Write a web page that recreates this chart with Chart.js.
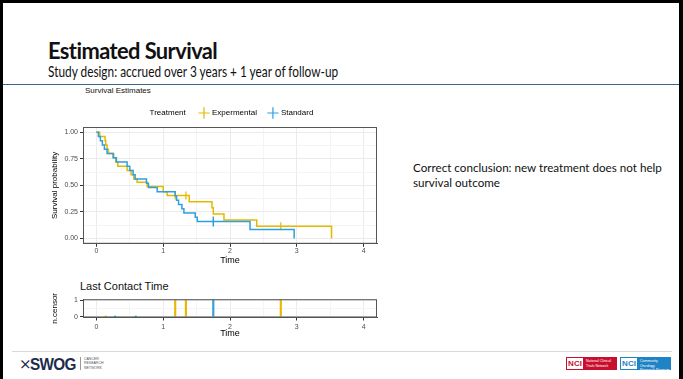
<!DOCTYPE html>
<html>
<head>
<meta charset="utf-8">
<script src="https://cdn.jsdelivr.net/npm/chart.js@4.4.1/dist/chart.umd.min.js"></script>
<style>
html, body { margin:0; padding:0; background:#fff; }
#slide { position:relative; width:683px; height:379px; overflow:hidden; background:#fff; font-family:Lato, "Open Sans", sans-serif; }
#frame { position:absolute; left:0; top:0; width:676px; height:379px; border-top:3px solid #000; border-left:3px solid #000; border-right:4px solid #000; }
.txt { position:absolute; white-space:nowrap; transform-origin:0 0; color:#111; }
#title { left:48px; top:36px; font-size:23px; font-weight:bold; letter-spacing:-0.6px; transform:scaleX(0.95); }
#subtitle { left:48px; top:62px; font-size:15px; transform:scaleX(0.79); }
#rule { position:absolute; left:3px; top:84px; width:676px; height:1px; background:#3d6490; }
#rtext { left:413px; top:160px; font-size:12px; line-height:15px; transform:scaleX(0.97); }
.gtitle { font-family:"Liberation Sans", Arial, sans-serif; }
#t1 { left:85px; top:86px; font-size:8px; }
#t2 { left:80px; top:280px; font-size:11px; }
#foot { position:absolute; left:12px; top:351px; width:660px; height:1px; background:#d9d9d9; }
#swog { left:30px; top:355px; font-family:"Liberation Sans", Arial, sans-serif; font-weight:bold; font-size:17px; color:#1d2b4c; letter-spacing:-0.8px; transform:scaleX(0.9); }
#swogx { left:19px; top:355px; font-size:15px; color:#1d2b4c; font-family:"DejaVu Sans", sans-serif; }
#swogsub { left:80px; top:357px; font-size:3.5px; line-height:4.3px; color:#555; border-left:1px solid #999; padding-left:3px; font-family:"Liberation Sans", Arial, sans-serif; }
.nci { position:absolute; top:357px; height:13px; font-family:"Liberation Sans", Arial, sans-serif; }
.nci b { position:absolute; left:1px; top:1px; height:11px; width:16px; background:#fff; font-size:8px; line-height:11px; text-align:center; }
.nci span { position:absolute; left:20px; top:2px; font-size:3.5px; line-height:4.5px; color:#fff; }
#top, #bot { position:absolute; }
#top { left:50px; top:97px; }
#bot { left:50px; top:293px; }
</style>
</head>
<body>
<div id="slide">
  <div id="frame"></div>
  <div class="txt" id="title">Estimated Survival</div>
  <div class="txt" id="subtitle">Study design: accrued over 3 years + 1 year of follow-up</div>
  <div id="rule"></div>
  <div class="txt gtitle" id="t1">Survival Estimates</div>
  <div class="txt gtitle" id="t2">Last Contact Time</div>
  <div class="txt" id="rtext">Correct conclusion: new treatment does not help<br>survival outcome</div>
  <canvas id="top" width="335" height="169"></canvas>
  <canvas id="bot" width="335" height="46"></canvas>
  <div id="foot"></div>
  <div class="txt" id="swogx">&#x2A2F;</div>
  <div class="txt" id="swog">SWOG</div>
  <div class="txt" id="swogsub">CANCER<br>RESEARCH<br>NETWORK</div>
  <div class="nci" style="left:566px;width:51px;background:#c8102e;"><b style="color:#c8102e">NCI</b><span>National Clinical<br>Trials Network</span></div>
  <div class="nci" style="left:620px;width:51px;background:#1f83c6;"><b style="color:#1f83c6">NCI</b><span>Community Oncology<br>Research Program</span></div>
</div>
<script>
// valeurs (temps en annees, survie estimee)
const expTime = [0, 0.05, 0.13, 0.14, 0.16, 0.18, 0.26, 0.29, 0.32, 0.46, 0.52, 0.56, 0.61, 0.76, 1.00, 1.06, 1.39, 1.73, 1.75, 1.91, 2.40, 3.52];
const expSurv = [1.00, 0.96, 0.92, 0.88, 0.84, 0.80, 0.76, 0.72, 0.68, 0.64, 0.60, 0.56, 0.53, 0.49, 0.44, 0.405, 0.347, 0.289, 0.231, 0.174, 0.116, 0];
const stdTime = [0, 0.03, 0.06, 0.09, 0.12, 0.16, 0.25, 0.30, 0.46, 0.50, 0.55, 0.58, 0.75, 0.78, 0.91, 1.18, 1.20, 1.23, 1.28, 1.31, 1.48, 1.51, 2.30, 2.96];
const stdSurv = [1.00, 0.96, 0.92, 0.88, 0.84, 0.80, 0.76, 0.72, 0.68, 0.64, 0.60, 0.56, 0.52, 0.48, 0.44, 0.40, 0.36, 0.32, 0.28, 0.24, 0.20, 0.16, 0.085, 0];

// patients censures
const expCensTime = [1.18, 1.34, 2.76];
const expCensSurv = [0.405, 0.405, 0.116];
const stdCensTime = [1.75];
const stdCensSurv = [0.16];

// graphe du bas : n.censor
const expNcTime = [0.14, 1.18, 1.34, 2.76];
const expNcCount = [0, 1, 1, 1];
const stdNcTime = [0.28, 0.59, 1.75];
const stdNcCount = [0, 0, 1];

const xTicks = [0, 1, 2, 3, 4];
const yTicks = [0, 0.25, 0.5, 0.75, 1];

const YEL = '#E7B800';
const BLU = '#2E9FDF';
const GRID = '#ebebeb';
const GRID_MINOR = '#f4f4f4';
const NONE = 'rgba(0,0,0,0)';

function pts(xs, ys) { return xs.map((x, i) => ({x: x, y: ys[i]})); }
function isMajor(c, list) { return c.tick ? list.some(t => Math.abs(t - c.tick.value) < 1e-6) : false; }
function isMajorV(v, list) { return list.some(t => Math.abs(t - v) < 1e-6); }

function xScale(tickPad, titlePad) {
	return {
		type: 'linear', min: -0.2, max: 4.2, offset: false,
		afterBuildTicks: s => {
			const t = [];
			for (let v = 0; v <= 4.0001; v += 0.5) t.push({value: v});
			s.ticks = t;
		},
		ticks: {
			autoSkip: false, maxRotation: 0, padding: tickPad, color: '#4d4d4d',
			font: {family: 'Liberation Sans', size: 7},
			callback: v => isMajorV(v, xTicks) ? String(v) : ''
		},
		grid: {
			offset: false,
			color: c => isMajor(c, xTicks) ? GRID : GRID_MINOR,
			tickColor: c => isMajor(c, xTicks) ? '#333' : NONE,
			tickLength: 3, lineWidth: 1
		},
		border: {display: true, color: '#555', width: 1},
		title: {display: true, text: 'Time', color: '#000', padding: {top: titlePad, bottom: 0},
			font: {family: 'Liberation Sans', size: 9}}
	};
}

// cadre complet autour du panneau (style ggplot theme_bw)
const panelBorder = {
	id: 'panelBorder',
	afterDatasetsDraw(chart) {
		const a = chart.chartArea, ctx = chart.ctx;
		ctx.save();
		ctx.strokeStyle = '#555';
		ctx.lineWidth = 1;
		ctx.strokeRect(a.left + 0.5, a.top + 0.5, a.right - a.left - 1, a.bottom - a.top - 1);
		ctx.restore();
	}
};

new Chart(document.getElementById('top'), {
	type: 'line',
	data: {
		datasets: [
			{label: 'Expermental', data: pts(expTime, expSurv), borderColor: YEL, borderWidth: 1.5, stepped: true, pointRadius: 0, fill: false, order: 2},
			{label: 'Standard', data: pts(stdTime, stdSurv), borderColor: BLU, borderWidth: 1.5, stepped: true, pointRadius: 0, fill: false, order: 1},
			{label: 'cens exp', type: 'scatter', data: pts(expCensTime, expCensSurv), pointStyle: 'line', rotation: 90, pointRadius: 4, borderColor: YEL, pointBorderWidth: 1.2, order: 2},
			{label: 'cens std', type: 'scatter', data: pts(stdCensTime, stdCensSurv), pointStyle: 'line', rotation: 90, pointRadius: 5, borderColor: BLU, pointBorderWidth: 1.5, order: 1}
		]
	},
	options: {
		responsive: false, animation: false,
		layout: {padding: {left: 0, right: 8, top: 0, bottom: 0}},
		plugins: {
			tooltip: {enabled: false},
			legend: {
				display: true, position: 'top',
				labels: {
					usePointStyle: true, boxWidth: 8, boxHeight: 8, padding: 12,
					font: {family: 'Liberation Sans', size: 8}, color: '#000',
					// premier item vide pour decaler la legende vers la droite comme dans ggplot
					generateLabels: () => [
						{text: '', fillStyle: NONE, strokeStyle: NONE, lineWidth: 0, pointStyle: 'circle', fontColor: '#000'},
						{text: 'Treatment ', fillStyle: NONE, strokeStyle: NONE, lineWidth: 0, pointStyle: 'circle', fontColor: '#000'},
						{text: 'Expermental', fillStyle: YEL, strokeStyle: YEL, lineWidth: 1.2, pointStyle: 'cross', fontColor: '#000'},
						{text: 'Standard', fillStyle: BLU, strokeStyle: BLU, lineWidth: 1.2, pointStyle: 'cross', fontColor: '#000'}
					]
				}
			}
		},
		scales: {
			x: xScale(0, 0),
			y: {
				min: -0.05, max: 1.05,
				afterBuildTicks: s => {
					const t = [];
					for (let v = 0; v <= 1.0001; v += 0.125) t.push({value: v});
					s.ticks = t;
				},
				afterFit: s => { s.width = 33; },
				ticks: {
					autoSkip: false, padding: 2, color: '#4d4d4d',
					font: {family: 'Liberation Sans', size: 7},
					callback: v => isMajorV(v, yTicks) ? v.toFixed(2) : ''
				},
				grid: {
					color: c => isMajor(c, yTicks) ? GRID : GRID_MINOR,
					tickColor: c => isMajor(c, yTicks) ? '#333' : NONE,
					tickLength: 3
				},
				border: {display: true, color: '#555'},
				title: {display: true, text: 'Survival probability', color: '#000', padding: {top: 0, bottom: 0, y: 3},
					font: {family: 'Liberation Sans', size: 8}}
			}
		}
	},
	plugins: [panelBorder]
});

new Chart(document.getElementById('bot'), {
	type: 'bar',
	data: {
		datasets: [
			{label: 'Expermental', data: pts(expNcTime, expNcCount), backgroundColor: YEL, barThickness: 1.5, minBarLength: 1, grouped: false},
			{label: 'Standard', data: pts(stdNcTime, stdNcCount), backgroundColor: BLU, barThickness: 1.5, minBarLength: 1, grouped: false}
		]
	},
	options: {
		responsive: false, animation: false,
		layout: {padding: {left: 0, right: 8, top: 3, bottom: 0}},
		plugins: {legend: {display: false}, tooltip: {enabled: false}},
		scales: {
			x: xScale(2, 1),
			y: {
				min: -0.05, max: 1.05,
				afterBuildTicks: s => { s.ticks = [{value: 0}, {value: 0.5}, {value: 1}]; },
				afterFit: s => { s.width = 33; },
				ticks: {
					autoSkip: false, padding: 2, color: '#4d4d4d',
					font: {family: 'Liberation Sans', size: 7},
					callback: v => (v === 0 || v === 1) ? String(v) : ''
				},
				grid: {
					color: c => (c.tick && c.tick.value === 0.5) ? GRID_MINOR : GRID,
					tickColor: c => (c.tick && c.tick.value === 0.5) ? NONE : '#333',
					tickLength: 3
				},
				border: {display: true, color: '#555'},
				title: {display: true, text: 'n.censor', color: '#000', padding: {top: 0, bottom: 0, y: 3},
					font: {family: 'Liberation Sans', size: 8}}
			}
		}
	},
	plugins: [panelBorder]
});
</script>
</body>
</html>
